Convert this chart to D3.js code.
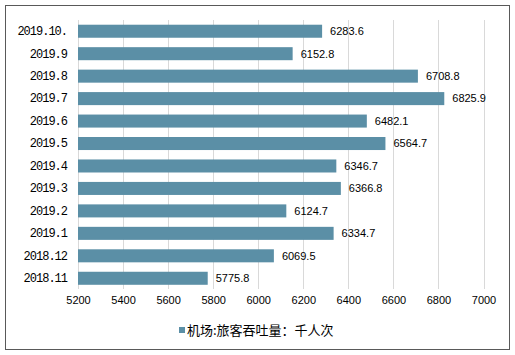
<!DOCTYPE html>
<html><head><meta charset="utf-8">
<script src="https://cdn.jsdelivr.net/npm/d3@7/dist/d3.min.js"></script>
<style>body{margin:0;background:#fff}svg{display:block}</style>
</head><body>
<svg id="c" width="515" height="355"></svg>
<script>
const categories = ["2019.10.","2019.9","2019.8","2019.7","2019.6","2019.5","2019.4","2019.3","2019.2","2019.1","2018.12","2018.11"];
const values = [6283.6,6152.8,6708.8,6825.9,6482.1,6564.7,6346.7,6366.8,6124.7,6334.7,6069.5,5775.8];
const xTicks = [5200,5400,5600,5800,6000,6200,6400,6600,6800,7000];
const seriesName = "机场:旅客吞吐量：千人次";

const svg = d3.select("#c");
svg.append("rect").attr("x",5.5).attr("y",5.5).attr("width",504).attr("height",344)
  .attr("fill","#fff").attr("stroke","#595959").attr("stroke-width",1);

const x = d3.scaleLinear().domain([5200,7000]).range([78,483.5]);
const y = d3.scaleBand().domain(categories).range([20,289.5]).paddingInner(0.42).paddingOuter(0.21);

// gridlines
svg.append("g").selectAll("line").data(xTicks).join("line")
  .attr("x1",d=>Math.round(x(d))+0.5).attr("x2",d=>Math.round(x(d))+0.5)
  .attr("y1",20).attr("y2",289)
  .attr("stroke","#d9d9d9").attr("stroke-width",1);

// x axis labels
const xAxis = d3.axisBottom(x).tickValues(xTicks).tickSize(0).tickPadding(0).tickFormat(d3.format("d"));
const gx = svg.append("g").attr("transform","translate(0,296)").call(xAxis);
gx.select(".domain").remove();
gx.selectAll("text").attr("font-family","'Liberation Sans',Arial,sans-serif").attr("font-size",11).attr("fill","#000").attr("dy","0.71em");

// y axis labels
const yAxis = d3.axisLeft(y).tickSize(0).tickPadding(0);
const gy = svg.append("g").attr("transform","translate(67,0)").call(yAxis);
gy.select(".domain").remove();
gy.selectAll("text").attr("font-family","'Liberation Mono','DejaVu Sans Mono',monospace").attr("font-size",12)
  .attr("letter-spacing","-1px").attr("fill","#000");

// bars
const data = categories.map((c,i)=>({c,v:values[i]}));
svg.append("g").selectAll("rect").data(data).join("rect")
  .attr("x",x(5200)).attr("y",d=>y(d.c)).attr("width",d=>x(d.v)-x(5200)).attr("height",y.bandwidth())
  .attr("fill","#5b8fa6");

// value labels
svg.append("g").selectAll("text").data(data).join("text")
  .attr("x",d=>x(d.v)+8).attr("y",d=>y(d.c)+y.bandwidth()/2).attr("dy","0.35em")
  .attr("font-family","'Liberation Sans',Arial,sans-serif").attr("font-size",11).attr("fill","#000")
  .text(d=>d.v.toFixed(1));

// legend
svg.append("rect").attr("x",179).attr("y",327).attr("width",6).attr("height",6).attr("fill","#5b8fa6");
svg.append("text").attr("x",187).attr("y",335).attr("font-family","'Noto Sans CJK SC',sans-serif")
  .attr("font-size",13).attr("fill","#000").text(seriesName);
</script>
</body></html>
